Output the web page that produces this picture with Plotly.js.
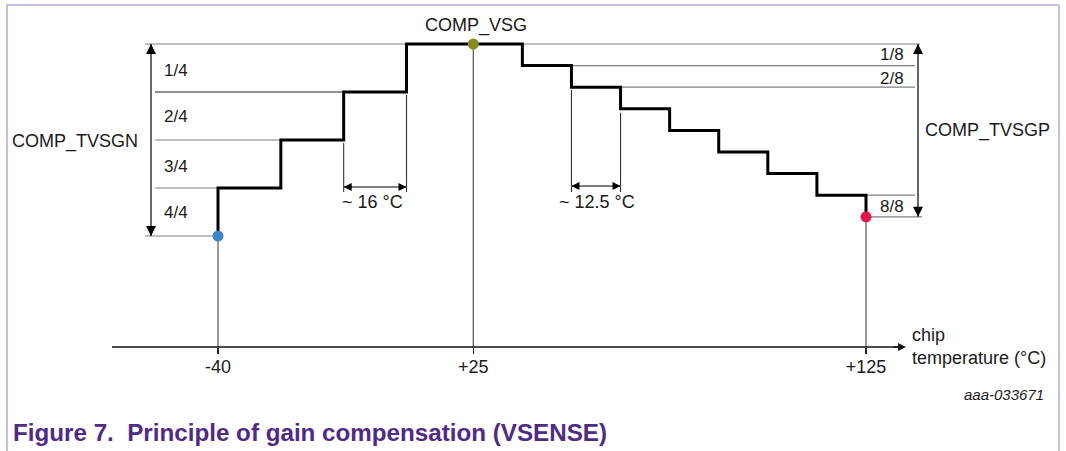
<!DOCTYPE html>
<html>
<head>
<meta charset="utf-8">
<script src="https://cdn.plot.ly/plotly-3.0.1.min.js"></script>
<style>
  html, body { margin: 0; padding: 0; background: #ffffff; }
  #chart { width: 1066px; height: 451px; }
</style>
</head>
<body>
<div id="chart"></div>
<script>
// ---------------- DATA ----------------
// gain-compensation staircase (temperature in °C, relative gain level)
const stepTemps = [-40, -24, -8, 8, 37.5, 50, 62.5, 75, 87.5, 100, 112.5, 125, 125];
const stepGain  = [6, 7, 8, 9, 10, 9.55, 9.1, 8.65, 8.2, 7.75, 7.3, 6.85, 6.4];

// key points: -40 °C (TVSGN end), +25 °C (VSG), +125 °C (TVSGP end)
const pointTemps  = [-40, 25, 125];
const pointGain   = [6, 10, 6.4];
const pointColors = ['#3d85c8', '#878b1f', '#e2174e'];

// x-axis ticks
const tickVals = [-40, 25, 125];
const tickText = ['-40', '+25', '+125'];

// fraction labels
const fracNText   = ['1/4', '2/4', '3/4', '4/4'];
const fracNLevels = [9.45, 8.5, 7.45, 6.5];
const fracPText   = ['1/8', '2/8', '8/8'];
const fracPLevels = [9.775, 9.29, 6.625];

// reference levels
const vsgLevel   = 10;
const tvsgnLevel = 6;
const tvsgpLevel = 6.4;
const leftGuideLevels = [9, 8, 7];          // gray guides, left side
const leftGuideEnds   = [-8, -24, -40];
const rightGuideLevels = [9.55, 9.1, 6.85]; // gray guides, right side
const rightGuideStarts = [50, 62.5, 125];

// dimension markers
const dimN = [-8, 8];       // ~16 °C
const dimNTop = [8, 9];
const dimP = [50, 62.5];    // ~12.5 °C
const dimPTop = [9.1, 8.65];
const dimNLabel = '~ 16 °C';
const dimPLabel = '~ 12.5 °C';

// ---------------- LAYOUT HELPERS ----------------
const W = 1066, H = 451, plotBottom = 347;
const pxPerC = (866 - 218) / (125 - (-40));
const pxPerU = 48;
const X = px => -40 + (px - 218) / pxPerC;
const Y = py => vsgLevel - (py - 44) / pxPerU;
const xRange = [X(0), X(W)];
const yRange = [Y(plotBottom), Y(0)];
const yBottom = yRange[0];
const PY = py => (plotBottom - py) / plotBottom;  // paper y

const FONT = 'Liberation Sans, Arial, sans-serif';
const GRAY = '#808080';

const traces = [];
function seg(xs, ys, color, width) {
  traces.push({type: 'scatter', mode: 'lines', x: xs, y: ys,
    line: {color: color, width: width}, hoverinfo: 'skip', showlegend: false});
}
function dimArrow(xs, ys, symbols, size, color) {
  traces.push({type: 'scatter', mode: 'lines+markers', x: xs, y: ys,
    line: {color: color, width: 1.5},
    marker: {symbol: symbols, size: size, color: '#000', line: {width: 0}},
    hoverinfo: 'skip', showlegend: false});
}

// top and bottom guides
seg([X(145), X(920)], [vsgLevel, vsgLevel], GRAY, 1.2);
seg([X(145), pointTemps[0]], [tvsgnLevel, tvsgnLevel], GRAY, 1.2);
seg([pointTemps[2], X(922)], [tvsgpLevel, tvsgpLevel], GRAY, 1.2);
// left guides
leftGuideLevels.forEach((lv, i) => {
  seg([X(155), leftGuideEnds[i]], [lv, lv], i === 0 ? '#222' : GRAY, 1.2);
});
// right guides
rightGuideLevels.forEach((lv, i) => {
  seg([rightGuideStarts[i], X(915)], [lv, lv], GRAY, 1.2);
});
// vertical drops to axis
pointTemps.forEach((t, i) => {
  seg([t, t], [pointGain[i], yBottom], '#555', 1.2);
});
// dimension extension lines
const extBottom = Y(192);
seg([dimN[0], dimN[0]], [dimNTop[0] - 0.06, extBottom], '#333', 1.1);
seg([dimN[1], dimN[1]], [dimNTop[1] - 0.06, extBottom], '#333', 1.1);
seg([dimP[0], dimP[0]], [dimPTop[0] - 0.06, extBottom], '#333', 1.1);
seg([dimP[1], dimP[1]], [dimPTop[1] - 0.08, extBottom], '#333', 1.1);
// dimension arrows
dimArrow(dimN, [Y(187), Y(187)], ['arrow-left', 'arrow-right'], 8, '#555');
dimArrow(dimP, [Y(186), Y(186)], ['arrow-left', 'arrow-right'], 8, '#555');
// span arrows
dimArrow([X(151), X(151)], [vsgLevel, tvsgnLevel], ['arrow-up', 'arrow-down'], 10, '#333');
dimArrow([X(918), X(918)], [vsgLevel, tvsgpLevel], ['arrow-up', 'arrow-down'], 10, '#333');

// staircase
traces.push({type: 'scatter', mode: 'lines', x: stepTemps, y: stepGain,
  line: {color: '#000', width: 3, shape: 'vh'}, hoverinfo: 'skip', showlegend: false});
// key points
traces.push({type: 'scatter', mode: 'markers', x: pointTemps, y: pointGain,
  marker: {size: 11, color: pointColors, line: {width: 0}}, hoverinfo: 'skip', showlegend: false});

// ---------------- ANNOTATIONS ----------------
const txt = (text, x, y, opts) => Object.assign({text: text, x: x, y: y, xref: 'x', yref: 'y',
  showarrow: false, xanchor: 'center', yanchor: 'middle',
  font: {family: FONT, size: 18, color: '#1a1a1a'}}, opts || {});

const annotations = [
  txt('COMP_VSG', X(476), Y(25)),
  txt('COMP_TVSGN', X(140), Y(141), {xanchor: 'right'}),
  txt('COMP_TVSGP', X(923), (vsgLevel + tvsgpLevel) / 2, {xanchor: 'left'}),
  txt(dimNLabel, X(372), Y(202)),
  txt(dimPLabel, X(597), Y(202)),
];
fracNText.forEach((t, i) => annotations.push(
  txt(t, X(162), fracNLevels[i], {xanchor: 'left', font: {family: FONT, size: 17, color: '#1a1a1a'}})));
fracPText.forEach((t, i) => annotations.push(
  txt(t, X(906), fracPLevels[i], {xanchor: 'right', font: {family: FONT, size: 17, color: '#1a1a1a'}})));

annotations.push({text: 'chip<br>temperature (°C)', x: X(910), y: PY(346), xref: 'x', yref: 'paper',
  showarrow: false, xanchor: 'left', yanchor: 'middle', align: 'left',
  font: {family: FONT, size: 18, color: '#1a1a1a'}});
annotations.push({text: '<i>aaa-033671</i>', x: 1046 / W, y: PY(394), xref: 'paper', yref: 'paper',
  showarrow: false, xanchor: 'right', yanchor: 'middle',
  font: {family: FONT, size: 15, color: '#1a1a1a'}});
annotations.push({text: '<b>Figure 7.&nbsp;&nbsp;Principle of gain compensation (VSENSE)</b>',
  x: 11 / W, y: PY(433), xref: 'paper', yref: 'paper',
  showarrow: false, xanchor: 'left', yanchor: 'middle',
  font: {family: FONT, size: 24.2, color: '#4f2a87'}});
// axis arrow head
annotations.push({text: '', x: X(906), y: 0, xref: 'x', yref: 'paper',
  ax: -14, ay: 0, showarrow: true, arrowhead: 2, arrowsize: 1, arrowwidth: 1.6,
  arrowcolor: '#111', standoff: 0});

const shapes = [
  {type: 'line', xref: 'x', yref: 'paper', x0: X(112), x1: X(900), y0: 0, y1: 0,
   line: {color: '#111', width: 1.5}},
  {type: 'path', xref: 'paper', yref: 'paper',
   path: `M ${7 / W} ${PY(460)} L ${7 / W} ${PY(5)} L ${1059 / W} ${PY(5)} L ${1059 / W} ${PY(460)}`,
   line: {color: '#b9a8d6', width: 1.5}}
];

const layout = {
  width: W, height: H,
  margin: {l: 0, r: 0, t: 0, b: H - plotBottom, pad: 0},
  paper_bgcolor: '#ffffff', plot_bgcolor: 'rgba(0,0,0,0)',
  font: {family: FONT, size: 18, color: '#1a1a1a'},
  showlegend: false, hovermode: false,
  xaxis: {range: xRange, showgrid: false, zeroline: false, showline: false,
    tickmode: 'array', tickvals: tickVals, ticktext: tickText,
    ticks: 'outside', ticklen: 6, tickwidth: 1.2, tickcolor: '#222',
    ticklabelstandoff: -3,
    tickfont: {family: FONT, size: 18, color: '#1a1a1a'}, fixedrange: true},
  yaxis: {range: yRange, visible: false, fixedrange: true},
  annotations: annotations,
  shapes: shapes
};

Plotly.newPlot('chart', traces, layout, {displayModeBar: false, staticPlot: true});
</script>
</body>
</html>
